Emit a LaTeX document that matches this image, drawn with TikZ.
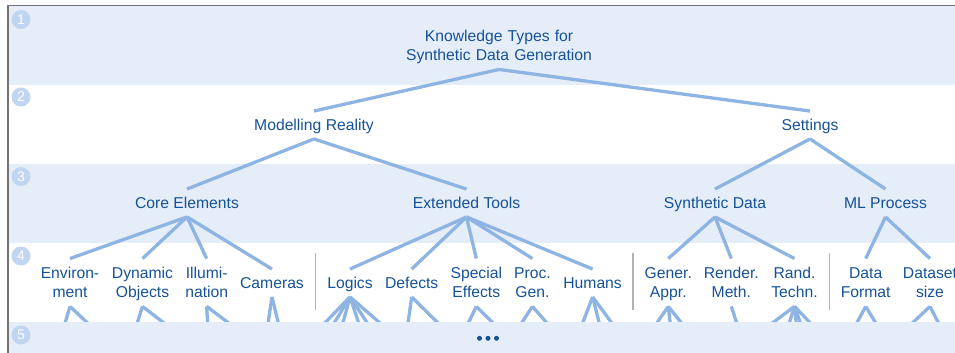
\documentclass[tikz,border=0pt]{standalone}
\usepackage{fontspec}
\setmainfont{Liberation Sans}
\usetikzlibrary{positioning}
\definecolor{bandblue}{RGB}{229,237,248}
\definecolor{linkblue}{RGB}{141,180,226}
\definecolor{textblue}{RGB}{22,82,152}
\definecolor{numblue}{RGB}{192,213,240}
\tikzset{
  lvl/.style   ={inner sep=0pt,text=textblue,font=\fontsize{15.7}{19}\selectfont,
                 text height=11.3pt,text depth=0pt,minimum height=27.5pt},
  lvltwo/.style={lvl,align=center,text width=#1,text depth=19pt,minimum height=47.5pt},
  lvltwo/.default=66pt,
  link/.style  ={draw=linkblue,line width=3.3pt},
  band/.style  ={fill=bandblue},
  sep/.style   ={draw=black!30,line width=1.3pt},
  num/.style   ={circle,fill=numblue,text=white,inner sep=0pt,minimum size=19pt,
                 font=\fontsize{14}{14}\selectfont},
  dot/.style   ={circle,fill=textblue,inner sep=0pt,minimum size=5pt},
}

\begin{document}
\begin{tikzpicture}[x=1pt,y=-1pt]
  \clip (0,0) rectangle (955,353);
  % rows
  \fill[band] (8,5) rectangle (980,85);
  \fill[band] (8,164) rectangle (980,243);
  \foreach \n/\y in {1/19.5,2/97,3/176.5,4/256,5/335}
    \node[num] (row\n) at (21,\y) {\n};
  \draw[sep] (315.7,253) -- (315.7,310);
  \draw[sep] (632.9,253) -- (632.9,310);
  \draw[sep] (829.3,253) -- (829.3,310);

  % level 1 and 2
  \node[lvltwo=200pt] (root) at (499,45.5) {Knowledge Types for\\Synthetic Data Generation};
  \node[lvl] (model) at (314,125) {Modelling Reality};
  \node[lvl] (sett)  at (810,125) {Settings};
  % level 3
  \node[lvl] (core)  at (187,203) {Core Elements};
  \node[lvl] (ext)   at (466.5,203) {Extended Tools};
  \node[lvl] (synth) at (715,203) {Synthetic Data};
  \node[lvl] (mlp)   at (885.5,203) {ML Process};
  % level 4
  \node[lvltwo] (env)    at (70,282.5)    {Environ-\\ment};
  \node[lvltwo] (dyn)    at (142.5,282.5) {Dynamic\\Objects};
  \node[lvltwo] (illu)   at (206.7,282.5) {Illumi-\\nation};
  \node[lvl]    (cam)    at (272,283)     {Cameras};
  \node[lvl]    (logic)  at (350,283)     {Logics};
  \node[lvl]    (defect) at (411.7,283)   {Defects};
  \node[lvltwo] (sfx)    at (476.3,282.5) {Special\\Effects};
  \node[lvltwo] (proc)   at (532.4,282.5) {Proc.\\Gen.};
  \node[lvl]    (human)  at (592.6,283)   {Humans};
  \node[lvltwo] (gener)  at (668.3,282.5) {Gener.\\Appr.};
  \node[lvltwo] (render) at (731.3,282.5) {Render.\\Meth.};
  \node[lvltwo] (rand)   at (794.5,282.5) {Rand.\\Techn.};
  \node[lvltwo] (dform)  at (865.7,282.5) {Data\\Format};
  \node[lvltwo] (dsize)  at (930,282.5)   {Dataset\\size};

  \draw[link] (root.south) -- (model.north);
  \draw[link] (root.south) -- (sett.north);
  \draw[link] (model.south) -- (core.north);
  \draw[link] (model.south) -- (ext.north);
  \draw[link] (sett.south) -- (synth.north);
  \draw[link] (sett.south) -- (mlp.north);
  \foreach \c in {env,dyn,illu,cam}
    \draw[link] (core.south) -- (\c.north);
  \foreach \c in {logic,defect,sfx,proc,human}
    \draw[link] (ext.south) -- (\c.north);
  \foreach \c in {gener,render,rand}
    \draw[link] (synth.south) -- (\c.north);
  \foreach \c in {dform,dsize}
    \draw[link] (mlp.south) -- (\c.north);

  % branches running on into row 5
  \foreach \p/\xs in {env/{63,95},dyn/{135,173},illu/{208,238},cam/{267,280},
      logic/{318,330,341,361,372,388},defect/{407,445},sfx/{465,500},
      proc/{517,553},human/{580,601,617},gener/{652,671,687},render/{739},
      rand/{763,787,797,803,817},dform/{853,880},dsize/{905,942}}
    \foreach \x [count=\i] in \xs {
      \coordinate (\p-\i) at (\x,330);
      \draw[link] (\p.south) -- (\p-\i);
    }
  \fill[band] (8,322) rectangle (980,370);
  \node[num] at (row5) {5};
  \foreach \x [count=\i] in {479.5,488,496.5}
    \node[dot] (more\i) at (\x,338.3) {};

  \draw[draw=black!55,line width=1.5pt] (8,370) -- (8,5.3) -- (980,5.3);
\end{tikzpicture}
\end{document}
